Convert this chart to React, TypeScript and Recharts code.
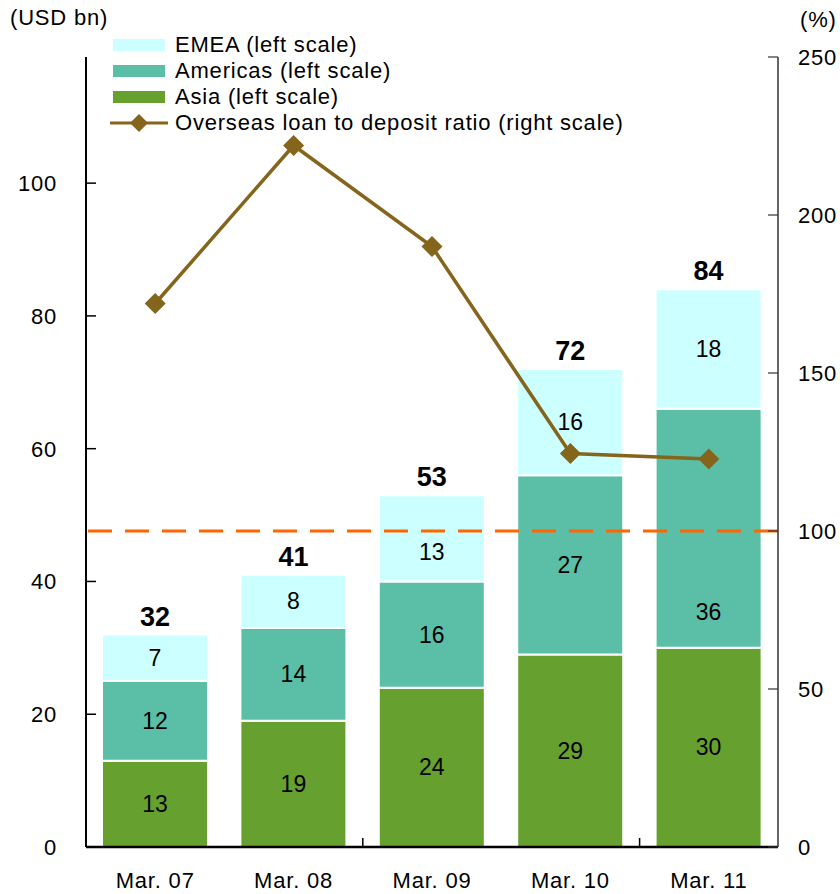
import React from 'react';
import { ComposedChart, Bar, Line, XAxis, YAxis, ReferenceLine, LabelList, Legend } from 'recharts';

const categories = ['Mar. 07', 'Mar. 08', 'Mar. 09', 'Mar. 10', 'Mar. 11'];
const asia = [13, 19, 24, 29, 30];
const americas = [12, 14, 16, 27, 36];
const emea = [7, 8, 13, 16, 18];
const ratio = [172, 222, 190, 124.5, 122.8];
const leftTicks = [0, 20, 40, 60, 80, 100];
const rightTicks = [0, 50, 100, 150, 200, 250];
const thresholdRatio = 100;

const seriesNames = {
  emea: 'EMEA (left scale)',
  americas: 'Americas (left scale)',
  asia: 'Asia (left scale)',
  ratio: 'Overseas loan to deposit ratio (right scale)',
};

const COLORS = {
  emea: '#CCFFFF',
  americas: '#5BBFA7',
  asia: '#66A02F',
  ratio: '#85651C',
  dashed: '#FF6600',
};

const data = categories.map((c, i) => ({
  name: c,
  asia: asia[i],
  americas: americas[i],
  emea: emea[i],
  total: asia[i] + americas[i] + emea[i],
  ratio: ratio[i],
}));

// label nudges (styling only) so labels clear the dashed line, as in the reference
const LABEL_NUDGE: Record<string, number> = {
  'emea-2': 14,
  'americas-4': 84,
};

const W = 840;
const H = 894;
const LEFT_W = 86;
const RIGHT_W = 62;
const FONT = '"Liberation Sans", Arial, sans-serif';
const HALF_BAND = (W - LEFT_W - RIGHT_W) / categories.length / 2;
const LS = 0.8;

const LeftTick = (props: any) => {
  const { x, y, payload } = props;
  return (
    <g>
      <line x1={x} x2={x + 10} y1={y} y2={y} stroke="#000" strokeWidth={1.5} />
      <text x={x - 29} y={y} dy={8} textAnchor="end" fontSize={22} fill="#000" fontFamily={FONT} letterSpacing={LS}>
        {payload.value}
      </text>
    </g>
  );
};

const RightTick = (props: any) => {
  const { x, y, payload } = props;
  return (
    <g>
      <line x1={x} x2={x - 10} y1={y} y2={y} stroke="#333" strokeWidth={1.2} />
      <text x={x + 20} y={y} dy={8} textAnchor="start" fontSize={22} fill="#000" fontFamily={FONT} letterSpacing={LS}>
        {payload.value}
      </text>
    </g>
  );
};

const BottomTick = (props: any) => {
  const { x, y, payload, index } = props;
  return (
    <g>
      {index % 2 === 1 ? (
        <line x1={x + HALF_BAND} x2={x + HALF_BAND} y1={y} y2={y - 9} stroke="#000" strokeWidth={1.5} />
      ) : null}
      <text x={x} y={y + 41} textAnchor="middle" fontSize={22} fill="#000" fontFamily={FONT} letterSpacing={LS}>
        {payload.value}
      </text>
    </g>
  );
};

const makeCenterLabel = (series: string) => (props: any) => {
  const { x, y, width, height, value, index } = props;
  const nudge = LABEL_NUDGE[`${series}-${index}`] || 0;
  return (
    <text
      x={Number(x) + Number(width) / 2}
      y={Number(y) + Number(height) / 2 + nudge}
      dy={8}
      textAnchor="middle"
      fontSize={23}
      fill="#000"
      fontFamily={FONT}
    >
      {value}
    </text>
  );
};

const Diamond = (props: any) => {
  const { cx, cy, index } = props;
  if (cx == null || cy == null) return <g key={`d${index}`} />;
  const r = 10.5;
  return (
    <path
      key={`d${index}`}
      d={`M${cx},${cy - r}L${cx + r},${cy}L${cx},${cy + r}L${cx - r},${cy}Z`}
      fill={COLORS.ratio}
    />
  );
};

const LegendContent = () => {
  const rows: { key: string; color: string; line?: boolean }[] = [
    { key: 'emea', color: COLORS.emea },
    { key: 'americas', color: COLORS.americas },
    { key: 'asia', color: COLORS.asia },
    { key: 'ratio', color: COLORS.ratio, line: true },
  ];
  return (
    <div style={{ fontFamily: FONT, fontSize: 22, color: '#000', letterSpacing: LS }}>
      {rows.map((r) => (
        <div key={r.key} style={{ display: 'flex', alignItems: 'center', height: 26, lineHeight: '26px' }}>
          <svg width={62} height={26} style={{ display: 'block', flex: 'none' }}>
            {r.line ? (
              <g>
                <line x1={0} x2={58} y1={13} y2={13} stroke={r.color} strokeWidth={3} />
                <path d="M29,4L38,13L29,22L20,13Z" fill={r.color} />
              </g>
            ) : (
              <rect x={3} y={7} width={52} height={12} fill={r.color} />
            )}
          </svg>
          <span style={{ whiteSpace: 'nowrap', marginLeft: 3 }}>{(seriesNames as any)[r.key]}</span>
        </div>
      ))}
    </div>
  );
};

export default function App() {
  return (
    <div style={{ position: 'absolute', left: 0, top: 0, width: W, height: H, background: '#fff', fontFamily: FONT }}>
      <div style={{ position: 'absolute', left: 10, top: 5, fontSize: 22, lineHeight: '26px', color: '#000', letterSpacing: LS }}>(USD bn)</div>
      <div style={{ position: 'absolute', left: 800, top: 7, fontSize: 22, lineHeight: '26px', color: '#000', letterSpacing: LS }}>(%)</div>
      <ComposedChart
        width={W}
        height={H}
        data={data}
        margin={{ top: 57, right: 0, bottom: 0, left: 0 }}
        barSize={106}
      >
        <XAxis
          dataKey="name"
          height={47}
          tickLine={false}
          tickSize={0}
          tickMargin={0}
          tick={<BottomTick />}
          axisLine={{ stroke: '#000', strokeWidth: 2.5 }}
          interval={0}
        />
        <YAxis
          yAxisId="left"
          orientation="left"
          width={LEFT_W}
          domain={[0, 119]}
          ticks={leftTicks}
          tickLine={false}
          tickSize={0}
          tickMargin={0}
          tick={<LeftTick />}
          axisLine={{ stroke: '#000', strokeWidth: 2 }}
          allowDataOverflow
        />
        <YAxis
          yAxisId="right"
          orientation="right"
          width={RIGHT_W}
          domain={[0, 250]}
          ticks={rightTicks}
          tickLine={false}
          tickSize={0}
          tickMargin={0}
          tick={<RightTick />}
          axisLine={{ stroke: '#333', strokeWidth: 1.5 }}
        />
        <Legend
          layout="vertical"
          align="center"
          verticalAlign="middle"
          content={<LegendContent />}
          wrapperStyle={{ position: 'absolute', left: 110, top: 32, width: 600, height: 110 }}
        />
        <Bar yAxisId="left" dataKey="asia" stackId="a" fill={COLORS.asia} stroke="#fff" strokeWidth={2} isAnimationActive={false}>
          <LabelList dataKey="asia" content={makeCenterLabel('asia')} />
        </Bar>
        <Bar yAxisId="left" dataKey="americas" stackId="a" fill={COLORS.americas} stroke="#fff" strokeWidth={2} isAnimationActive={false}>
          <LabelList dataKey="americas" content={makeCenterLabel('americas')} />
        </Bar>
        <Bar yAxisId="left" dataKey="emea" stackId="a" fill={COLORS.emea} stroke="#fff" strokeWidth={2} isAnimationActive={false}>
          <LabelList dataKey="emea" content={makeCenterLabel('emea')} />
          <LabelList
            dataKey="total"
            position="top"
            offset={9}
            fill="#000"
            fontSize={27}
            fontWeight="bold"
            fontFamily={'"Liberation Sans Narrow", "Arial Narrow", "Liberation Sans", Arial, sans-serif'}
          />
        </Bar>
        <ReferenceLine
          yAxisId="right"
          y={thresholdRatio}
          stroke={COLORS.dashed}
          strokeWidth={3}
          strokeDasharray="24 13"
        />
        <Line
          yAxisId="right"
          dataKey="ratio"
          stroke={COLORS.ratio}
          strokeWidth={3.5}
          dot={<Diamond />}
          activeDot={false}
          isAnimationActive={false}
        />
      </ComposedChart>
    </div>
  );
}
